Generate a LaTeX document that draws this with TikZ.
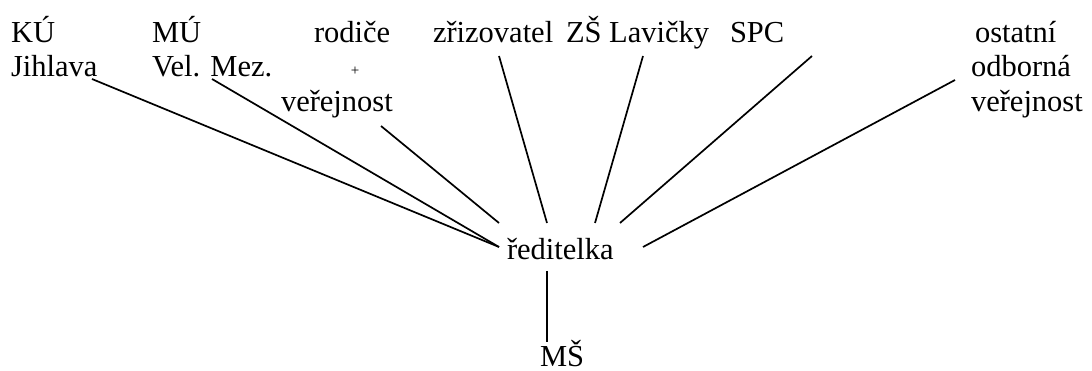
\documentclass[tikz,border=0pt]{standalone}
\usepackage{fontspec}
\setmainfont{Liberation Serif}
\begin{document}
\begin{tikzpicture}[x=1pt,y=-1pt,
  lbl/.style={anchor=base west,inner sep=0pt,outer sep=0pt,font=\fontsize{30.5}{35}\selectfont},
  small/.style={anchor=center,inner sep=0pt,font=\fontsize{15}{17}\selectfont},
  link/.style={line width=1.7pt,line cap=butt}]
\useasboundingbox (0,0) rectangle (1092,371);
% top labels
\node[lbl] (ku) at (11,43) {KÚ};
\node[lbl] (jihlava) at (11,77) {Jihlava};
\node[lbl] (mu) at (152,43) {MÚ};
\node[lbl] (velmez) at (152,77) {Vel. Mez.};
\node[lbl] (rodice) at (314,43) {rodiče};
\node[small] (plus) at (355,71) {+};
\node[lbl] (verejnost) at (281,112) {veřejnost};
\node[lbl] (zrizovatel) at (433,43) {zřizovatel};
\node[lbl] (zs) at (566,43) {ZŠ Lavičky};
\node[lbl] (spc) at (730,43) {SPC};
\node[lbl] (ostatni) at (975,43) {ostatní};
\node[lbl] (odborna) at (971,77) {odborná};
\node[lbl] (verejnost2) at (971,112) {veřejnost};
% centre
\node[lbl] (reditelka) at (507,260) {ředitelka};
\node[lbl] (ms) at (540,366) {MŠ};
% line ends
\coordinate (a1) at (92,79);
\coordinate (a2) at (212,79);
\coordinate (a3) at (381,126);
\coordinate (a4) at (499,56);
\coordinate (a5) at (643,56);
\coordinate (a6) at (812,56);
\coordinate (a7) at (955,80);
\coordinate (b12) at (499,247);
\coordinate (b3) at (499,223);
\coordinate (b4) at (547,223);
\coordinate (b5) at (595,223);
\coordinate (b6) at (620,223);
\coordinate (b7) at (643,247);
\coordinate (c1) at (547,271);
\coordinate (c2) at (547,342);
\draw[link] (a1) -- (b12);
\draw[link] (a2) -- (b12);
\draw[link] (a3) -- (b3);
\draw[link] (a4) -- (b4);
\draw[link] (a5) -- (b5);
\draw[link] (a6) -- (b6);
\draw[link] (a7) -- (b7);
\draw[link] (c1) -- (c2);
\end{tikzpicture}
\end{document}
